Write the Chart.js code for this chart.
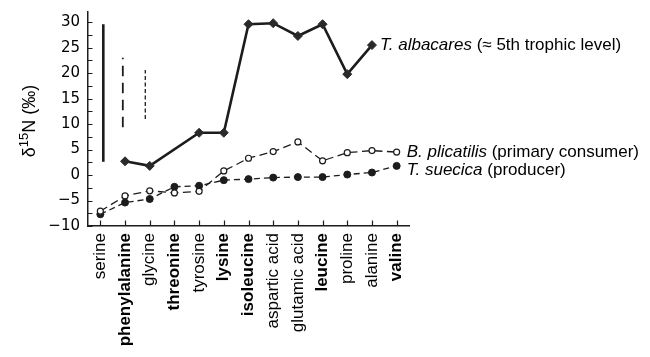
<!DOCTYPE html>
<html>
<head>
<meta charset="utf-8">
<script src="https://cdn.jsdelivr.net/npm/chart.js@4.4.1/dist/chart.umd.min.js"></script>
<style>
  html, body { margin: 0; padding: 0; background: #fff; }
  canvas { display: block; }
</style>
</head>
<body>
<canvas id="c" width="650" height="357"></canvas>
<script>
// Amino acids along the x axis; essential ones are printed in bold.
const aminoAcids = ['serine', 'phenylalanine', 'glycine', 'threonine', 'tyrosine', 'lysine',
  'isoleucine', 'aspartic acid', 'glutamic acid', 'leucine', 'proline', 'alanine', 'valine'];
const essential = [false, true, false, true, false, true, true, false, false, true, false, false, true];

// δ15N values (‰) per amino acid for each organism
const albacares = [null, 2.7, 1.8, null, 8.3, 8.3, 29.6, 29.8, 27.3, 29.6, 19.8, 25.5, null];
const plicatilis = [-7.1, -4.1, -3.1, -3.5, -3.2, 0.8, 3.3, 4.6, 6.5, 2.8, 4.4, 4.8, 4.5];
const suecica = [-7.7, -5.4, -4.7, -2.3, -2.1, -1.0, -0.8, -0.5, -0.4, -0.4, 0.1, 0.5, 1.8];

// Vertical range bars near the y axis: [x position (category index), low, high]
const rangeSolid = [0.12, 2.6, 29.6];
const rangeLongDash = [0.91, 9.4, 23.0];
const rangeShortDash = [1.82, 11.0, 20.6];

// y axis ticks (labels shown every 5)
const yTickValues = [-10, -7.5, -5, -2.5, 0, 2.5, 5, 7.5, 10, 12.5, 15, 17.5, 20, 22.5, 25, 27.5, 30];

// Series captions
const captions = [
  { italic: 'T. albacares', plain: ' (\u2248 5th trophic level)' },
  { italic: 'B. plicatilis', plain: ' (primary consumer)' },
  { italic: 'T. suecica', plain: ' (producer)' }
];

const SANS = '"Liberation Sans", Arial, Helvetica, sans-serif';
const INK = '#1c1c1c';

const toPoints = arr => arr.map((v, i) => ({ x: i, y: v }));
const rangePoints = r => [{ x: r[0], y: r[1] }, { x: r[0], y: r[2] }];

// Small inward tick marks on both axes
const innerTicks = {
  id: 'innerTicks',
  afterDraw(chart) {
    const { ctx, scales: { x, y } } = chart;
    ctx.save();
    ctx.strokeStyle = INK;
    ctx.lineWidth = 1.2;
    ctx.beginPath();
    yTickValues.forEach(v => {
      const py = Math.round(y.getPixelForValue(v)) + 0.5;
      ctx.moveTo(y.right, py);
      ctx.lineTo(y.right + 4.5, py);
    });
    aminoAcids.forEach((_, i) => {
      const px = Math.round(x.getPixelForValue(i)) + 0.5;
      ctx.moveTo(px, x.top);
      ctx.lineTo(px, x.top - 5.5);
    });
    ctx.stroke();
    ctx.restore();
  }
};

// Caption beside the end of each series
const seriesCaptions = {
  id: 'seriesCaptions',
  afterDatasetsDraw(chart) {
    const { ctx } = chart;
    const anchors = [
      { ds: 0, idx: 11, dx: 8, dy: 0 },
      { ds: 1, idx: 12, dx: 10, dy: 0 },
      { ds: 2, idx: 12, dx: 10, dy: 4 }
    ];
    ctx.save();
    ctx.fillStyle = '#000';
    ctx.textBaseline = 'middle';
    ctx.textAlign = 'left';
    anchors.forEach((a, k) => {
      const pt = chart.getDatasetMeta(a.ds).data[a.idx];
      let px = pt.x + a.dx;
      const py = pt.y + a.dy;
      ctx.font = 'italic 17px ' + SANS;
      ctx.fillText(captions[k].italic, px, py);
      px += ctx.measureText(captions[k].italic).width;
      ctx.font = '17px ' + SANS;
      ctx.fillText(captions[k].plain, px, py);
    });
    ctx.restore();
  }
};

// Rotated y-axis title with superscript mass number
const yTitle = {
  id: 'yTitle',
  afterDraw(chart) {
    const { ctx } = chart;
    const parts = [
      { t: '\u03b4', size: 18, rise: 0 },
      { t: '15', size: 13, rise: -6 },
      { t: 'N (\u2030)', size: 18, rise: 0 }
    ];
    ctx.save();
    ctx.translate(30, 121);
    ctx.rotate(-Math.PI / 2);
    ctx.fillStyle = '#000';
    ctx.textBaseline = 'middle';
    ctx.textAlign = 'left';
    let total = 0;
    parts.forEach(p => { ctx.font = p.size + 'px ' + SANS; p.w = ctx.measureText(p.t).width; total += p.w; });
    let px = -total / 2;
    parts.forEach(p => {
      ctx.font = p.size + 'px ' + SANS;
      ctx.fillText(p.t, px, p.rise);
      px += p.w;
    });
    ctx.restore();
  }
};

new Chart(document.getElementById('c'), {
  type: 'line',
  data: {
    datasets: [
      {
        data: toPoints(albacares), spanGaps: true,
        borderColor: INK, borderWidth: 2.6,
        pointStyle: 'rectRot', pointRadius: 4.5,
        pointBackgroundColor: '#2a2a2a', pointBorderColor: '#2a2a2a', pointBorderWidth: 1
      },
      {
        data: toPoints(plicatilis),
        borderColor: INK, borderWidth: 1.3, borderDash: [8, 4.5],
        pointStyle: 'circle', pointRadius: 3,
        pointBackgroundColor: '#fff', pointBorderColor: INK, pointBorderWidth: 1.2
      },
      {
        data: toPoints(suecica),
        borderColor: INK, borderWidth: 1.3, borderDash: [6, 4],
        pointStyle: 'circle', pointRadius: 3.5,
        pointBackgroundColor: INK, pointBorderColor: INK, pointBorderWidth: 1
      },
      {
        data: rangePoints(rangeSolid),
        borderColor: INK, borderWidth: 2.6, pointRadius: 0, borderCapStyle: 'butt'
      },
      {
        data: rangePoints(rangeLongDash),
        borderColor: INK, borderWidth: 1.8, borderDash: [10.5, 6.5], pointRadius: 0
      },
      {
        data: rangePoints(rangeShortDash),
        borderColor: INK, borderWidth: 1.3, borderDash: [4, 2.5], pointRadius: 0
      }
    ]
  },
  options: {
    responsive: false,
    animation: false,
    layout: { padding: { top: 12, right: 241, left: 0, bottom: 0 } },
    plugins: { legend: { display: false }, tooltip: { enabled: false } },
    scales: {
      x: {
        type: 'linear', min: -0.5, max: 12.5,
        afterBuildTicks: s => { s.ticks = aminoAcids.map((_, i) => ({ value: i })); },
        afterFit: s => { s.height = 131; s.paddingLeft = 0; s.paddingRight = 0; },
        grid: { display: false, drawTicks: false },
        border: { display: true, color: INK, width: 1.5 },
        ticks: {
          autoSkip: false, minRotation: 90, maxRotation: 90, padding: 7, color: '#000',
          callback: v => aminoAcids[v],
          font: c => ({ family: SANS, size: 17, weight: essential[c.index] ? 'bold' : 'normal' })
        }
      },
      y: {
        min: -10, max: 32,
        afterBuildTicks: s => { s.ticks = yTickValues.map(v => ({ value: v })); },
        afterFit: s => { s.width = 88; s.paddingTop = 0; s.paddingBottom = 0; },
        grid: { display: false, drawTicks: false },
        border: { display: true, color: INK, width: 1.5 },
        ticks: {
          padding: 8, color: '#000',
          font: { family: '"DejaVu Sans", sans-serif', size: 15 },
          callback: v => (v % 5 === 0 ? (v < 0 ? '\u2212' + Math.abs(v) : String(v)) : '')
        }
      }
    }
  },
  plugins: [innerTicks, seriesCaptions, yTitle]
});
</script>
</body>
</html>
